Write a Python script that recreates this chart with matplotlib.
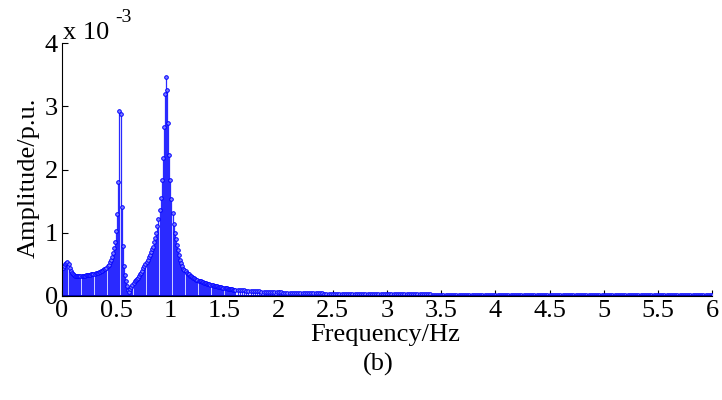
"""Amplitude spectrum of the oscillation signal, stem plot (panel b)."""

import matplotlib.pyplot as plt
import numpy as np

# FFT bins: 0.01 Hz up to 1.6 Hz, then every 0.02 Hz up to 6 Hz
freq_fine = np.round(np.arange(161) * 0.01, 2)
freq_tail = np.round(1.62 + np.arange(220) * 0.02, 2)

# amplitudes in units of 1e-3 p.u.
amp_fine = [
    0.44, 0.45, 0.47, 0.50, 0.52, 0.53, 0.51, 0.45, 0.40, 0.37,   # 0.00-0.09
    0.34, 0.33, 0.32, 0.32, 0.315, 0.315, 0.315, 0.315, 0.315, 0.32,
    0.32, 0.32, 0.325, 0.325, 0.33, 0.33, 0.335, 0.34, 0.345, 0.35,
    0.355, 0.36, 0.365, 0.37, 0.375, 0.38, 0.39, 0.40, 0.41, 0.42,
    0.43, 0.45, 0.47, 0.49, 0.53, 0.57, 0.62, 0.68, 0.76, 0.86,    # 0.40-0.49
    1.02, 1.30, 1.80, 2.93, 2.88, 1.41, 0.79, 0.48, 0.33, 0.23,
    0.16, 0.10, 0.07, 0.11, 0.15, 0.18, 0.20, 0.23, 0.25, 0.27,
    0.29, 0.32, 0.35, 0.37, 0.40, 0.44, 0.47, 0.51, 0.54, 0.57,
    0.61, 0.65, 0.70, 0.74, 0.78, 0.85, 0.91, 1.00, 1.10, 1.22,
    1.36, 1.55, 1.84, 2.18, 2.67, 3.19, 3.47, 3.25, 2.73, 2.23,    # 0.90-0.99
    1.84, 1.54, 1.32, 1.14, 0.99, 0.90, 0.81, 0.73, 0.65, 0.57,
    0.52, 0.47, 0.43, 0.41, 0.39, 0.37, 0.35, 0.34, 0.32, 0.31,
    0.30, 0.29, 0.28, 0.27, 0.26, 0.25, 0.245, 0.24, 0.23, 0.22,
    0.215, 0.21, 0.205, 0.20, 0.195, 0.19, 0.185, 0.18, 0.175, 0.17,
    0.165, 0.16, 0.155, 0.152, 0.148, 0.145, 0.14, 0.137, 0.133, 0.13,
    0.127, 0.124, 0.12, 0.117, 0.114, 0.111, 0.108, 0.105, 0.102, 0.10,
    0.098,
]
amp_tail = [
    0.095, 0.092, 0.090, 0.087, 0.085, 0.082, 0.080, 0.078, 0.076, 0.074,   # 1.62-1.80
    0.072, 0.070, 0.068, 0.066, 0.065, 0.063, 0.062, 0.060, 0.059, 0.057,
    0.056, 0.055, 0.054, 0.053, 0.052, 0.051, 0.050, 0.049, 0.048, 0.047,
    0.046, 0.045, 0.045, 0.044, 0.043, 0.042, 0.042, 0.041, 0.040, 0.040,
    0.039, 0.039, 0.038, 0.038, 0.037, 0.037, 0.036, 0.036, 0.035, 0.035,   # 2.42-2.60
    0.034, 0.034, 0.034, 0.033, 0.033, 0.033, 0.032, 0.032, 0.032, 0.031,
    0.031, 0.031, 0.030, 0.030, 0.030, 0.029, 0.029, 0.029, 0.028, 0.028,
    0.028, 0.028, 0.027, 0.027, 0.027, 0.027, 0.026, 0.026, 0.026, 0.026,
    0.026, 0.025, 0.025, 0.025, 0.025, 0.025, 0.024, 0.024, 0.024, 0.024,
    0.023, 0.012, 0.010, 0.014, 0.020, 0.022, 0.022, 0.022, 0.021, 0.021,   # 3.42-3.60
    0.021, 0.021, 0.021, 0.020, 0.020, 0.020, 0.020, 0.020, 0.020, 0.019,
    0.019, 0.019, 0.019, 0.019, 0.019, 0.019, 0.018, 0.018, 0.018, 0.018,
    0.018, 0.018, 0.018, 0.018, 0.017, 0.017, 0.017, 0.017, 0.017, 0.017,
    0.017, 0.017, 0.017, 0.017, 0.017, 0.016, 0.016, 0.016, 0.016, 0.016,
    0.016, 0.016, 0.016, 0.016, 0.016, 0.016, 0.016, 0.016, 0.016, 0.016,   # 4.42-4.60
    0.016, 0.016, 0.016, 0.016, 0.015, 0.015, 0.015, 0.015, 0.015, 0.015,
    0.015, 0.015, 0.015, 0.015, 0.015, 0.015, 0.015, 0.015, 0.015, 0.015,
    0.015, 0.015, 0.015, 0.015, 0.015, 0.015, 0.015, 0.015, 0.015, 0.015,
    0.015, 0.015, 0.015, 0.015, 0.015, 0.014, 0.014, 0.014, 0.014, 0.014,
    0.014, 0.014, 0.014, 0.014, 0.014, 0.014, 0.014, 0.014, 0.014, 0.014,   # 5.42-5.60
    0.014, 0.014, 0.014, 0.014, 0.014, 0.014, 0.014, 0.014, 0.014, 0.014,
    0.014, 0.014, 0.014, 0.014, 0.014, 0.014, 0.014, 0.014, 0.014, 0.014,
]

x_ticks = [0, 0.5, 1, 1.5, 2, 2.5, 3, 3.5, 4, 4.5, 5, 5.5, 6]
x_tick_labels = ["0", "0.5", "1", "1.5", "2", "2.5", "3", "3.5", "4", "4.5", "5", "5.5", "6"]
y_ticks = [0, 1, 2, 3, 4]
y_tick_labels = ["0", "1", "2", "3", "4"]

plt.rcParams["font.family"] = ["Liberation Serif", "DejaVu Serif"]
FS = 19

freq = np.concatenate([freq_fine, freq_tail])
amp = np.array(amp_fine + amp_tail)

fig = plt.figure(figsize=(7.22, 4.0), dpi=100)
ax = fig.add_axes([0.0859, 0.26, 0.9003, 0.6325])

markerline, stemlines, baseline = ax.stem(freq, amp)
plt.setp(stemlines, color="#2a2aff", linewidth=0.9)
plt.setp(markerline, color="#0000ff", marker="o", markersize=2.6,
         markerfacecolor="#8080ff", markeredgewidth=0.7)
plt.setp(baseline, color="#0000c0", linewidth=1.4)

ax.set_xlim(0, 6)
ax.set_ylim(0, 4)
ax.set_xticks(x_ticks)
ax.set_xticklabels(x_tick_labels)
ax.set_yticks(y_ticks)
ax.set_yticklabels(y_tick_labels)
ax.tick_params(direction="in", length=4, width=0.8, labelsize=FS, pad=3)
ax.spines["top"].set_visible(False)
ax.spines["right"].set_visible(False)
ax.set_ylabel("Amplitude/p.u.", fontsize=FS)
ax.yaxis.set_label_coords(-0.034, 0.466)

fig.text(63 / 722, 1 - 39 / 400, "x 10", fontsize=FS, va="baseline")
fig.text(115 / 722, 1 - 22 / 400, "-3", fontsize=14, va="baseline")
fig.text(385 / 722, 1 - 341 / 400, "Frequency/Hz", fontsize=FS, ha="center", va="baseline")
fig.text(378 / 722, 1 - 371 / 400, "(b)", fontsize=FS, ha="center", va="baseline")

fig.savefig("out.png", dpi=100)
plt.close(fig)
